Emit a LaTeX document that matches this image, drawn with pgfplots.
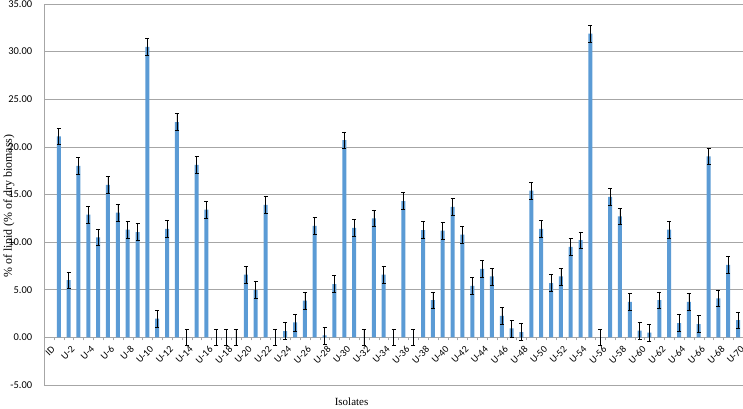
\documentclass[border=0pt]{standalone}
\usepackage{fontspec}
\setmainfont{Liberation Serif}
\newfontfamily\calfont{Carlito}
\usepackage{pgfplots}
\pgfplotsset{compat=1.18}
\usetikzlibrary{calc}
\definecolor{barblue}{HTML}{5B9BD5}
\definecolor{gridgray}{HTML}{A6A6A6}

% index 0 = ID (no value), index i = U-i
\pgfplotstableread{
x  y      e
1  21.10  0.88
2  6.00   0.88
3  18.00  0.88
4  12.90  0.88
5  10.50  0.88
6  16.00  0.88
7  13.10  0.88
8  11.30  0.88
9  11.05  0.88
10 30.50  0.88
11 1.96   0.88
12 11.40  0.88
13 22.60  0.88
14 0.00   0.86
15 18.10  0.88
16 13.40  0.88
17 0.00   0.86
18 0.00   0.86
19 0.00   0.86
20 6.60   0.88
21 4.97   0.88
22 13.90  0.88
23 0.00   0.86
24 0.66   0.88
25 1.57   0.88
26 3.85   0.88
27 11.70  0.88
28 0.20   0.88
29 5.60   0.88
30 20.70  0.88
31 11.50  0.88
32 0.00   0.86
33 12.50  0.88
34 6.60   0.88
35 0.00   0.86
36 14.30  0.88
37 0.00   0.86
38 11.26  0.88
39 3.90   0.88
40 11.20  0.88
41 13.70  0.88
42 10.80  0.88
43 5.40   0.88
44 7.20   0.88
45 6.40   0.88
46 2.27   0.88
47 0.94   0.88
48 0.56   0.88
49 15.40  0.88
50 11.40  0.88
51 5.70   0.88
52 6.40   0.88
53 9.50   0.88
54 10.20  0.88
55 31.90  0.88
56 0.00   0.86
57 14.75  0.88
58 12.70  0.88
59 3.74   0.88
60 0.70   0.88
61 0.50   0.88
62 3.90   0.88
63 11.30  0.88
64 1.50   0.88
65 3.74   0.88
66 1.40   0.88
67 19.00  0.88
68 4.10   0.88
69 7.60   0.88
70 1.80   0.88
}\lipid

\begin{document}
\begin{tikzpicture}
\begin{axis}[
  name=ax,
  scale only axis,
  width=699bp, height=381bp,
  xmin=-0.5, xmax=70.5,
  ymin=-5, ymax=35,
  ytick={-5,0,...,35},
  axis x line=middle,
  axis y line*=left,
  axis line style={gridgray, -},
  hide obscured x ticks=false,
  hide obscured y ticks=false,
  ymajorgrids,
  major grid style={gridgray, line width=0.6pt},
  xtick={0,2,...,70},
  xticklabels={ID,U-2,U-4,U-6,U-8,U-10,U-12,U-14,U-16,U-18,U-20,U-22,U-24,U-26,U-28,U-30,U-32,U-34,U-36,U-38,U-40,U-42,U-44,U-46,U-48,U-50,U-52,U-54,U-56,U-58,U-60,U-62,U-64,U-66,U-68,U-70},
  major x tick style={draw=none},
  minor xtick={-0.5,0.5,...,70.5},
  minor x tick style={gridgray},
  minor tick length=3bp,
  tick align=outside,
  major y tick style={draw=none},
  xticklabel style={font=\calfont\fontsize{10}{12}\selectfont, rotate=45, anchor=north east, inner sep=1pt, yshift=-3bp},
  yticklabel style={font=\calfont\fontsize{10.5}{12}\selectfont, xshift=-4bp},
  /pgf/number format/assume math mode=true,
  yticklabel={\pgfmathprintnumber[fixed, fixed zerofill, precision=2]{\tick}},
  xlabel={Isolates},
  xlabel style={at={(rel axis cs:0.44,0)}, anchor=center, yshift=-17bp, font=\fontsize{11}{13}\selectfont},
  clip=false,
]
  \addplot[ybar, bar width=4bp, fill=barblue, draw=none,
    error bars/.cd, y dir=both, y explicit,
    error bar style={black, line width=0.6pt},
    error mark options={black, rotate=90, mark size=2bp, line width=0.6pt}]
    table[x=x, y=y, y error=e] {\lipid};
  \coordinate (bl) at (rel axis cs:0,0);
  \coordinate (tr) at (rel axis cs:1,1);
\end{axis}
\node[rotate=90, font=\fontsize{12}{14}\selectfont, inner sep=0pt]
  at ($(bl)+(-35bp,179bp)$) {\% of lipid (\% of dry biomass)};
\pgfresetboundingbox
\path ($(bl)+(-44bp,-23bp)$) rectangle ($(tr)+(0bp,4bp)$);
\end{tikzpicture}
\end{document}
